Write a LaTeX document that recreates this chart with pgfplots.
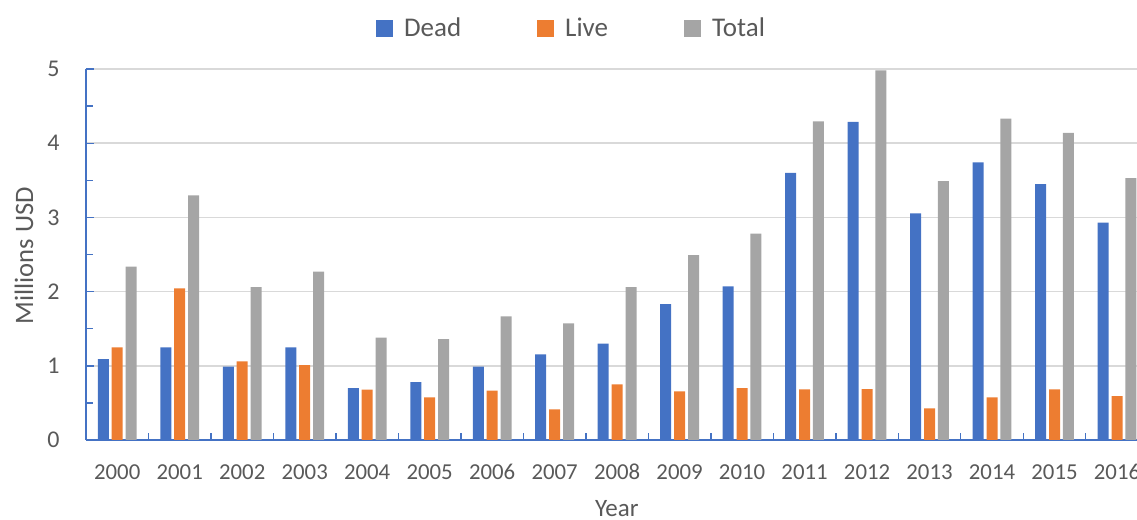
\documentclass[border=0pt]{standalone}
\usepackage{pgfplots}
\pgfplotsset{compat=1.18}
\usepackage{fontspec}
\setmainfont{Carlito}
\definecolor{cblue}{HTML}{4472C4}
\definecolor{corange}{HTML}{ED7D31}
\definecolor{cgray}{HTML}{A5A5A5}
\definecolor{ctext}{HTML}{595959}
\definecolor{cgrid}{HTML}{D9D9D9}
\begin{document}
\begin{tikzpicture}
\begin{axis}[
  at={(0pt,0pt)}, anchor=south west,
  scale only axis,
  width=525.5pt, height=185.5pt,
  xmin=-0.5, xmax=16.32,
  ymin=0, ymax=5,
  axis x line=bottom, axis y line=left,
  axis line style={-, draw=cblue, line width=0.85pt},
  xtick={0,1,...,16},
  xticklabels={2000,2001,2002,2003,2004,2005,2006,2007,2008,2009,2010,2011,2012,2013,2014,2015,2016},
  minor xtick={-0.5,0.5,...,15.5},
  major x tick style={draw=none},
  ytick={0,1,2,3,4,5},
  minor y tick num=1,
  tick align=inside,
  major tick length=4pt,
  minor tick length=3.4pt,
  tick style={draw=cblue, line width=0.7pt},
  ymajorgrids,
  major grid style={draw=cgrid, line width=0.8pt},
  /pgf/number format/assume math mode=true,
  xticklabel style={font=\fontsize{11.4}{13}\selectfont, text=ctext, inner sep=0pt, anchor=north, yshift=-12pt},
  yticklabel style={font=\fontsize{12}{14}\selectfont, text=ctext, inner sep=0pt, anchor=east, xshift=-13pt},
  xlabel={Year},
  xlabel style={font=\fontsize{12.5}{14}\selectfont, text=ctext, at={(axis description cs:0.505,0)}, anchor=base, yshift=-38pt},
  ylabel={Millions USD},
  ylabel style={font=\fontsize{13.3}{15}\selectfont, text=ctext, at={(axis description cs:-0.0504,0.497)}, anchor=base, rotate=0},
  legend style={at={(axis description cs:0.4629,1.108)}, anchor=center, draw=none, fill=none,
    font=\fontsize{13.5}{15}\selectfont, text=ctext, legend columns=3,
    /tikz/every even column/.append style={column sep=36pt},
    /tikz/every odd column/.append style={column sep=3.5pt}},
  mylegend/.style={legend image code/.code={\fill[##1] (0pt,-4.25pt) rectangle (8.5pt,4.25pt);}},
]
\addplot[ybar, bar width=5.5pt, bar shift=-6.95pt, fill=cblue, draw=none, mylegend] coordinates {
(0,1.09) (1,1.25) (2,0.99) (3,1.25) (4,0.70) (5,0.78) (6,0.99) (7,1.155) (8,1.30) (9,1.83) (10,2.07) (11,3.60) (12,4.286) (13,3.053) (14,3.74) (15,3.45) (16,2.93)};
\addlegendentry{Dead}
\addplot[ybar, bar width=5.5pt, bar shift=0pt, fill=corange, draw=none, mylegend] coordinates {
(0,1.247) (1,2.045) (2,1.06) (3,1.01) (4,0.68) (5,0.575) (6,0.665) (7,0.413) (8,0.75) (9,0.656) (10,0.70) (11,0.683) (12,0.687) (13,0.427) (14,0.575) (15,0.683) (16,0.59)};
\addlegendentry{Live}
\addplot[ybar, bar width=5.5pt, bar shift=6.95pt, fill=cgray, draw=none, mylegend] coordinates {
(0,2.337) (1,3.296) (2,2.06) (3,2.27) (4,1.38) (5,1.36) (6,1.667) (7,1.572) (8,2.062) (9,2.493) (10,2.78) (11,4.295) (12,4.98) (13,3.49) (14,4.33) (15,4.14) (16,3.53)};
\addlegendentry{Total}
\end{axis}
\pgfresetboundingbox
\useasboundingbox (-43pt,-40pt) rectangle (525.5pt,220pt);
\end{tikzpicture}
\end{document}
